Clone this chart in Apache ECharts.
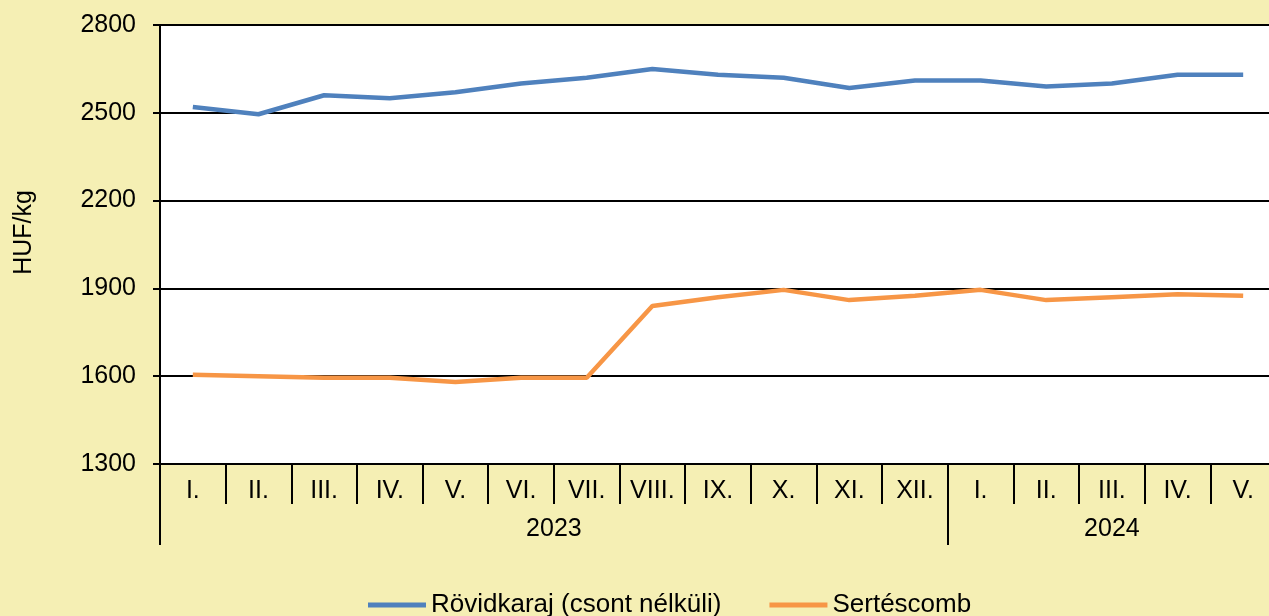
<!DOCTYPE html>
<html>
<head>
<meta charset="utf-8">
<script src="https://cdn.jsdelivr.net/npm/echarts@6/dist/echarts.min.js"></script>
<style>
  html, body { margin: 0; padding: 0; background: #f5efb4; }
  #chart { width: 1269px; height: 616px; }
</style>
</head>
<body>
<div id="chart"></div>
<script>
// havi kategóriák (2023 I. - 2024 V.)
const months = ['I.', 'II.', 'III.', 'IV.', 'V.', 'VI.', 'VII.', 'VIII.', 'IX.', 'X.', 'XI.', 'XII.',
  'I.', 'II.', 'III.', 'IV.', 'V.']
const years = ['2023', '2024']
const yearSpans = [12, 5]

const rovidkaraj = [2520, 2495, 2560, 2550, 2570, 2600, 2620, 2650, 2630, 2620, 2585, 2610,
  2610, 2590, 2600, 2630, 2630]
const sertescomb = [1605, 1600, 1595, 1595, 1580, 1595, 1595, 1840, 1870, 1895, 1860, 1875,
  1895, 1860, 1870, 1880, 1875]

const yMin = 1300
const yMax = 2800
const yStep = 300

// évek határai és középpontjai a második szintű tengelyhez
const yearBounds = [0]
const yearCenters = []
yearSpans.forEach((span, i) => {
  const start = yearBounds[i]
  yearBounds.push(start + span)
  yearCenters.push(start + span / 2)
})

const font = '"Liberation Sans", Arial, sans-serif'
const chart = echarts.init(document.getElementById('chart'))

chart.setOption({
  backgroundColor: '#f5efb4',
  textStyle: { fontFamily: font },
  animation: false,
  grid: {
    left: 160,
    top: 25,
    width: 1116, // a rajzterület jobb széle kilóg a képből
    bottom: 152,
    outerBoundsMode: 'none',
    containLabel: false,
    show: true,
    backgroundColor: '#ffffff',
    borderWidth: 0
  },
  legend: {
    bottom: -7,
    left: 363,
    icon: 'rect',
    itemWidth: 58,
    itemHeight: 5,
    itemGap: 48,
    textStyle: { fontSize: 26, color: '#000', fontFamily: font },
    data: ['Rövidkaraj (csont nélküli)', 'Sertéscomb']
  },
  xAxis: [{
    type: 'category',
    data: months,
    position: 'bottom',
    boundaryGap: true,
    axisLine: { lineStyle: { color: '#000', width: 2 } },
    axisTick: { show: true, interval: 0, length: 40, lineStyle: { color: '#000', width: 2 } },
    axisLabel: { interval: 0, margin: 15, fontSize: 25, color: '#000', fontFamily: font }
  }, {
    type: 'value',
    position: 'bottom',
    min: 0,
    max: months.length,
    axisLine: { show: false },
    splitLine: { show: false },
    axisTick: {
      show: true,
      length: 81,
      customValues: yearBounds,
      lineStyle: { color: '#000', width: 2 }
    },
    axisLabel: {
      margin: 53,
      fontSize: 25,
      color: '#000',
      fontFamily: font,
      customValues: yearCenters,
      formatter: v => years[yearCenters.indexOf(v)] || ''
    }
  }],
  yAxis: {
    type: 'value',
    min: yMin,
    max: yMax,
    interval: yStep,
    name: 'HUF/kg',
    nameLocation: 'middle',
    nameRotate: 90,
    nameGap: 123,
    nameTextStyle: { fontSize: 25, color: '#000', fontFamily: font, padding: [0, 0, 0, 24] },
    axisLine: { show: true, lineStyle: { color: '#000', width: 2 } },
    axisTick: { show: true, length: 7, lineStyle: { color: '#000', width: 2 } },
    axisLabel: { margin: 24, fontSize: 25, color: '#000', fontFamily: font, formatter: v => String(v) },
    splitLine: { show: true, lineStyle: { color: '#000', width: 2 } }
  },
  series: [{
    name: 'Rövidkaraj (csont nélküli)',
    type: 'line',
    data: rovidkaraj,
    showSymbol: false,
    symbol: 'none',
    itemStyle: { color: '#4f81bd' },
    lineStyle: { color: '#4f81bd', width: 4.5 }
  }, {
    name: 'Sertéscomb',
    type: 'line',
    data: sertescomb,
    showSymbol: false,
    symbol: 'none',
    itemStyle: { color: '#f79646' },
    lineStyle: { color: '#f79646', width: 4.5 }
  }]
})
</script>
</body>
</html>
